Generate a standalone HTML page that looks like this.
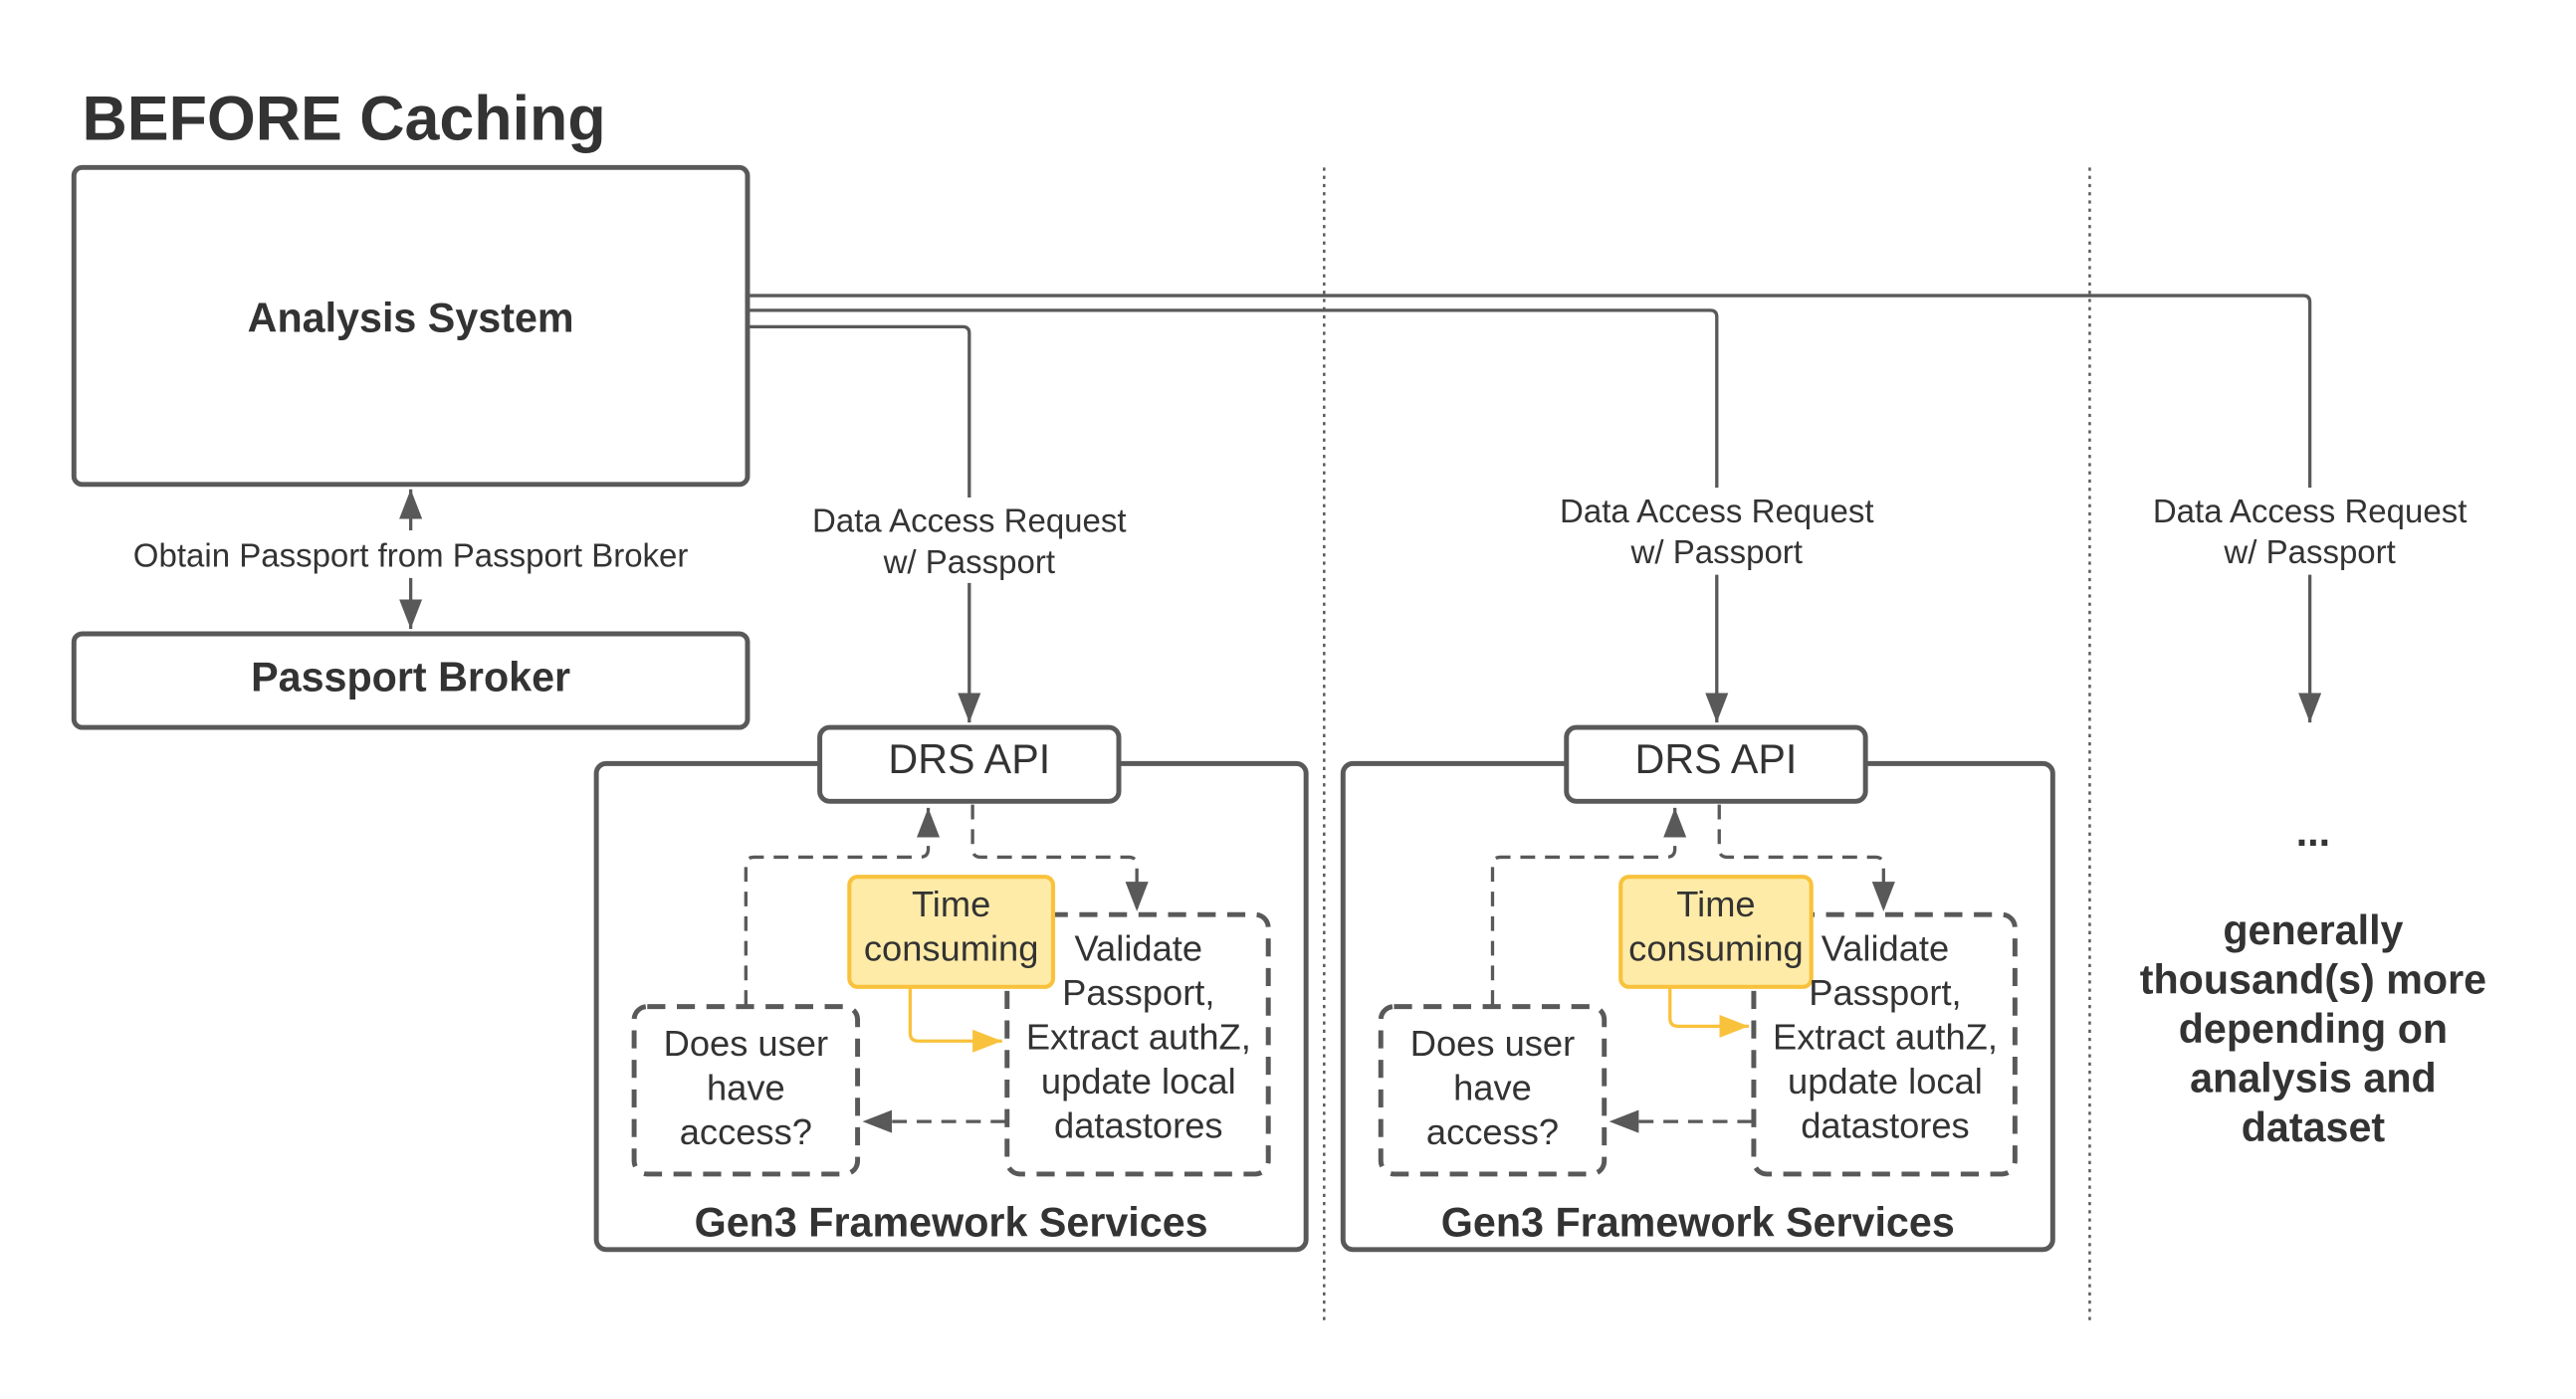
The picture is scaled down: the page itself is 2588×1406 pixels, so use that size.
<!DOCTYPE html>
<html><head><meta charset="utf-8"><style>
html,body{margin:0;padding:0;background:#fff;}
svg{display:block;}
text{font-family:"Liberation Sans",sans-serif;fill:#333;}
</style></head><body>
<svg width="2588" height="1406" viewBox="0 0 1568 852" preserveAspectRatio="none" xmlns="http://www.w3.org/2000/svg">
<defs>
<marker id="ahb" markerWidth="20" markerHeight="14" refX="18" refY="7" orient="auto" markerUnits="userSpaceOnUse"><path d="M0,0 L18,7 L0,14 z" fill="#595959"/></marker>
<marker id="ahy" markerWidth="20" markerHeight="14" refX="18" refY="7" orient="auto" markerUnits="userSpaceOnUse"><path d="M0,0 L18,7 L0,14 z" fill="#F9C23C"/></marker>
</defs>
<rect width="1568" height="852" fill="#fff"/>
<text x="50" y="85" font-size="38" font-weight="bold">BEFORE Caching</text>

<line x1="806" y1="102" x2="806" y2="806" stroke="#595959" stroke-width="1.5" stroke-dasharray="2 3"/>
<line x1="1272" y1="102" x2="1272" y2="806" stroke="#595959" stroke-width="1.5" stroke-dasharray="2 3"/>

<rect x="45" y="102" width="410" height="193" rx="5" fill="#fff" stroke="#595959" stroke-width="3"/>
<text x="250" y="202" font-size="25" font-weight="bold" text-anchor="middle">Analysis System</text>
<rect x="45" y="386" width="410" height="57" rx="5" fill="#fff" stroke="#595959" stroke-width="3"/>
<text x="250" y="421" font-size="25" font-weight="bold" text-anchor="middle">Passport Broker</text>

<line x1="250" y1="323" x2="250" y2="298" stroke="#595959" stroke-width="2" marker-end="url(#ahb)"/>
<line x1="250" y1="352" x2="250" y2="383" stroke="#595959" stroke-width="2" marker-end="url(#ahb)"/>
<text x="250" y="345" font-size="20" text-anchor="middle">Obtain Passport from Passport Broker</text>

<path d="M456,199 H586 Q590,199 590,203 V303" fill="none" stroke="#595959" stroke-width="2"/>
<path d="M590,355 V440" fill="none" stroke="#595959" stroke-width="2" marker-end="url(#ahb)"/>
<path d="M456,189 H1041 Q1045,189 1045,193 V297" fill="none" stroke="#595959" stroke-width="2"/>
<path d="M1045,350 V440" fill="none" stroke="#595959" stroke-width="2" marker-end="url(#ahb)"/>
<path d="M456,180 H1402 Q1406,180 1406,184 V297" fill="none" stroke="#595959" stroke-width="2"/>
<path d="M1406,350 V440" fill="none" stroke="#595959" stroke-width="2" marker-end="url(#ahb)"/>

<text x="590" y="324" font-size="20" text-anchor="middle">Data Access Request</text>
<text x="590" y="349" font-size="20" text-anchor="middle">w/ Passport</text>
<text x="1045" y="318" font-size="20" text-anchor="middle">Data Access Request</text>
<text x="1045" y="343" font-size="20" text-anchor="middle">w/ Passport</text>
<text x="1406" y="318" font-size="20" text-anchor="middle">Data Access Request</text>
<text x="1406" y="343" font-size="20" text-anchor="middle">w/ Passport</text>

<g>
<rect x="363" y="465" width="432" height="296" rx="6" fill="#fff" stroke="#595959" stroke-width="3"/>
<rect x="499" y="443" width="182" height="45" rx="6" fill="#fff" stroke="#595959" stroke-width="3"/>
<text x="590" y="471" font-size="25" text-anchor="middle">DRS API</text>
<path d="M454,612 V527 Q454,522 459,522 H560 Q565,522 565,517 V492" fill="none" stroke="#595959" stroke-width="2" stroke-dasharray="9 6" marker-end="url(#ahb)"/>
<path d="M592,490 V517 Q592,522 597,522 H687 Q692,522 692,527 V555" fill="none" stroke="#595959" stroke-width="2" stroke-dasharray="9 6" marker-end="url(#ahb)"/>
<rect x="386" y="613" width="136" height="102" rx="8" fill="none" stroke="#595959" stroke-width="3" stroke-dasharray="11 7"/>
<rect x="613" y="557" width="159" height="158" rx="8" fill="none" stroke="#595959" stroke-width="3" stroke-dasharray="11 7"/>
<path d="M612,683 H525" fill="none" stroke="#595959" stroke-width="2" stroke-dasharray="9 6" marker-end="url(#ahb)"/>
<rect x="517" y="534" width="124" height="67" rx="5" fill="#FFEBA8" stroke="#F9C23C" stroke-width="2.5"/>
<text x="579" y="558" font-size="22" text-anchor="middle">Time</text>
<text x="579" y="585" font-size="22" text-anchor="middle">consuming</text>
<path d="M554,602 V629 Q554,634 559,634 H610" fill="none" stroke="#F9C23C" stroke-width="2" marker-end="url(#ahy)"/>
<text x="454" y="643" font-size="22" text-anchor="middle">Does user</text>
<text x="454" y="670" font-size="22" text-anchor="middle">have</text>
<text x="454" y="697" font-size="22" text-anchor="middle">access?</text>
<text x="693" y="585" font-size="22" text-anchor="middle">Validate</text>
<text x="693" y="612" font-size="22" text-anchor="middle">Passport,</text>
<text x="693" y="639" font-size="22" text-anchor="middle">Extract authZ,</text>
<text x="693" y="666" font-size="22" text-anchor="middle">update local</text>
<text x="693" y="693" font-size="22" text-anchor="middle">datastores</text>
<text x="579" y="753" font-size="25" font-weight="bold" text-anchor="middle">Gen3 Framework Services</text>
</g>

<g transform="translate(454.5,0)">
<rect x="363" y="465" width="432" height="296" rx="6" fill="#fff" stroke="#595959" stroke-width="3"/>
<rect x="499" y="443" width="182" height="45" rx="6" fill="#fff" stroke="#595959" stroke-width="3"/>
<text x="590" y="471" font-size="25" text-anchor="middle">DRS API</text>
<path d="M454,612 V527 Q454,522 459,522 H560 Q565,522 565,517 V492" fill="none" stroke="#595959" stroke-width="2" stroke-dasharray="9 6" marker-end="url(#ahb)"/>
<path d="M592,490 V517 Q592,522 597,522 H687 Q692,522 692,527 V555" fill="none" stroke="#595959" stroke-width="2" stroke-dasharray="9 6" marker-end="url(#ahb)"/>
<rect x="386" y="613" width="136" height="102" rx="8" fill="none" stroke="#595959" stroke-width="3" stroke-dasharray="11 7"/>
<rect x="613" y="557" width="159" height="158" rx="8" fill="none" stroke="#595959" stroke-width="3" stroke-dasharray="11 7"/>
<path d="M612,683 H525" fill="none" stroke="#595959" stroke-width="2" stroke-dasharray="9 6" marker-end="url(#ahb)"/>
<rect x="532" y="534" width="116" height="67" rx="5" fill="#FFEBA8" stroke="#F9C23C" stroke-width="2.5"/>
<text x="590" y="558" font-size="22" text-anchor="middle">Time</text>
<text x="590" y="585" font-size="22" text-anchor="middle">consuming</text>
<path d="M562,602 V620 Q562,625 567,625 H610" fill="none" stroke="#F9C23C" stroke-width="2" marker-end="url(#ahy)"/>
<text x="454" y="643" font-size="22" text-anchor="middle">Does user</text>
<text x="454" y="670" font-size="22" text-anchor="middle">have</text>
<text x="454" y="697" font-size="22" text-anchor="middle">access?</text>
<text x="693" y="585" font-size="22" text-anchor="middle">Validate</text>
<text x="693" y="612" font-size="22" text-anchor="middle">Passport,</text>
<text x="693" y="639" font-size="22" text-anchor="middle">Extract authZ,</text>
<text x="693" y="666" font-size="22" text-anchor="middle">update local</text>
<text x="693" y="693" font-size="22" text-anchor="middle">datastores</text>
<text x="579" y="753" font-size="25" font-weight="bold" text-anchor="middle">Gen3 Framework Services</text>
</g>

<text x="1408" y="515" font-size="25" font-weight="bold" text-anchor="middle">...</text>
<text x="1408" y="575" font-size="25" font-weight="bold" text-anchor="middle">generally</text>
<text x="1408" y="605" font-size="25" font-weight="bold" text-anchor="middle">thousand(s) more</text>
<text x="1408" y="635" font-size="25" font-weight="bold" text-anchor="middle">depending on</text>
<text x="1408" y="665" font-size="25" font-weight="bold" text-anchor="middle">analysis and</text>
<text x="1408" y="695" font-size="25" font-weight="bold" text-anchor="middle">dataset</text>
</svg>
</body></html>
